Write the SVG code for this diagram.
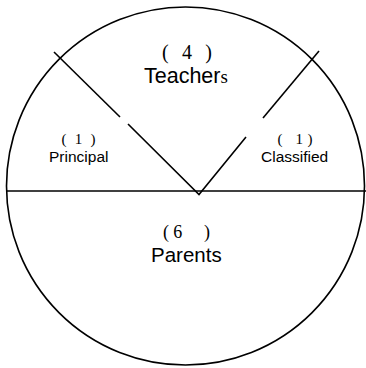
<svg xmlns="http://www.w3.org/2000/svg" width="366" height="368" viewBox="0 0 366 368">
<style>
.ln{stroke:#000;stroke-width:1.6;fill:none}
.sans{font-family:"Liberation Sans",Arial,sans-serif;fill:#000}
.serif{font-family:"Liberation Serif","Times New Roman",serif;fill:#000}
</style>
<rect width="366" height="368" fill="#fff"/>
<g id="connectors">
<circle class="ln" cx="185.5" cy="186" r="179"/>
<line class="ln" x1="7" y1="191" x2="366" y2="191"/>
<line class="ln" x1="54" y1="52" x2="120" y2="117"/>
<polyline class="ln" points="128,124 199,194.5 246,137"/>
<line class="ln" x1="263" y1="118" x2="319" y2="51"/>
</g>
<g id="teachers">
<text class="serif" x="162" y="59" font-size="20" textLength="50" lengthAdjust="spacing" xml:space="preserve">( 4 )</text>
<text class="sans" x="144" y="83" font-size="21.5">Teacher<tspan class="serif" font-size="19">s</tspan></text>
</g>
<g id="principal">
<text class="serif" x="61.5" y="144" font-size="15" textLength="34" lengthAdjust="spacing" xml:space="preserve">( 1 )</text>
<text class="sans" x="49" y="162" font-size="15.5">Principal</text>
</g>
<g id="classified">
<text class="serif" x="277.5" y="144" font-size="15" textLength="35" lengthAdjust="spacing" xml:space="preserve">( 1)</text>
<text class="sans" x="261" y="162" font-size="15.5">Classified</text>
</g>
<g id="parents">
<text class="serif" x="163" y="238" font-size="18" textLength="47" lengthAdjust="spacing" xml:space="preserve">(6  )</text>
<text class="sans" x="151" y="262" font-size="20.5">Parents</text>
</g>
</svg>
